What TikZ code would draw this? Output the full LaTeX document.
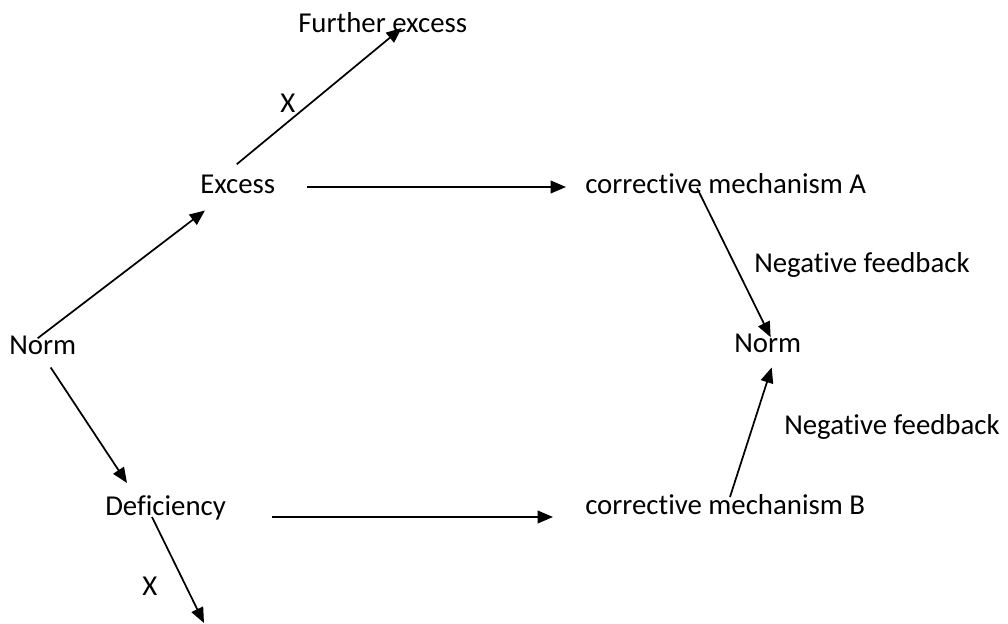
\documentclass[tikz,border=0pt]{standalone}
\usepackage{fontspec}
\setmainfont{Carlito}[Ligatures=NoCommon]
\usetikzlibrary{arrows.meta}
\begin{document}
\begin{tikzpicture}[x=0.75pt,y=-0.75pt,
    lbl/.style={anchor=base west,inner sep=0pt,font=\fontsize{21.6}{26}\selectfont},
    arr/.style={line width=1.3pt,-{Triangle[length=11.5pt,width=9.5pt]}}]
      \useasboundingbox(0,0)rectangle(1008,624);
      \foreach \N/\x/\y/\T in{further/298/33/Further excess, xup/280/113/X, excess/200/194/Excess,
        corrA/585/194/corrective mechanism A, nfA/754/273/Negative feedback, normR/734/353/Norm,
        normL/9/354/Norm, nfB/784/435/Negative feedback, defic/105/515/Deficiency,
        corrB/585/514/corrective mechanism B, xdown/142/595/X}{
        \node[lbl](\N)at(\x,\y){\T};
      }
      \coordinate(tipdown)at(204,623);
      \draw[arr]([shift={(-5,3)}]normL.north)--([shift={(5,16)}]excess.south west);
      \draw[arr]([shift={(-1,-11)}]excess.north)--([shift={(19,-5)}]further.base);
      \draw[arr]([shift={(32,-7)}]excess.base east)--([shift={(-19,-7)}]corrA.base west);
      \draw[arr]([shift={(112,-6)}]corrA.base west)--([shift={(3,3)}]normR.north);
      \draw[arr]([shift={(145,-17)}]corrB.base west)--([shift={(4,14)}]normR.south);
      \draw[arr]([shift={(8,13)}]normL.south)--([shift={(22,-32)}]defic.base west);
      \draw[arr]([shift={(47,2)}]defic.base west)--(tipdown);
      \draw[arr]([shift={(46,2)}]defic.base east)--([shift={(-32,3)}]corrB.base west);
    \end{tikzpicture}
\end{document}
